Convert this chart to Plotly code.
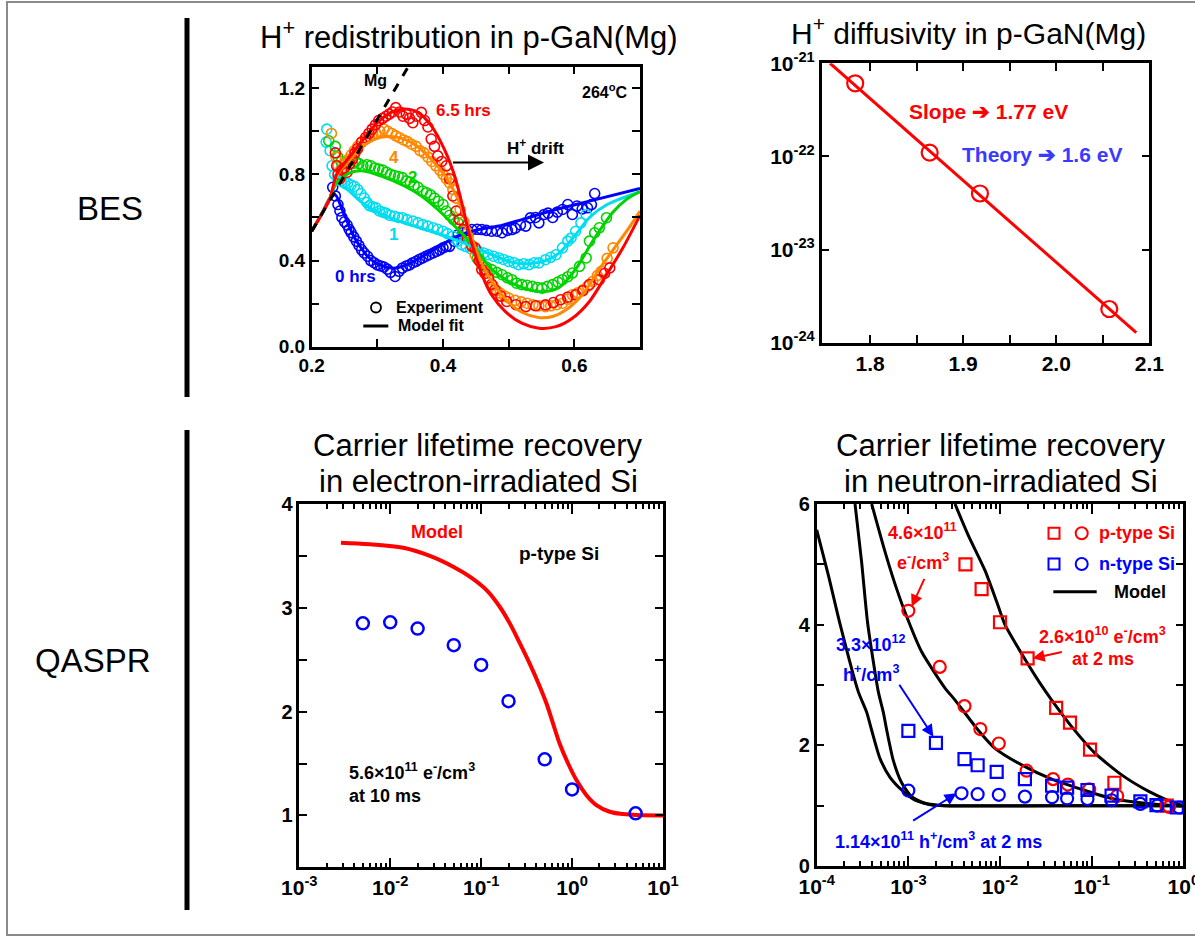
import plotly.graph_objects as go

FONT = "Arial, 'Liberation Sans', Helvetica, sans-serif"
W, H = 1195, 938

# ---------------- Panel 1: H+ redistribution in p-GaN(Mg) (BES) ----------------
bes_labels = ["0 hrs", "1", "2", "4", "6.5 hrs"]
bes_colors = ["#0000ff", "#00dcf0", "#00d400", "#ff8800", "#ff0000"]

bes_exp_0h = [(0.232, 0.74), (0.236, 0.70), (0.240, 0.66), (0.243, 0.63), (0.246, 0.60), (0.250, 0.58),
              (0.254, 0.565), (0.257, 0.545), (0.260, 0.53), (0.264, 0.51), (0.268, 0.49), (0.272, 0.47),
              (0.276, 0.45), (0.280, 0.435), (0.285, 0.42), (0.290, 0.40), (0.295, 0.39), (0.300, 0.38),
              (0.305, 0.375), (0.310, 0.37), (0.315, 0.36), (0.320, 0.345), (0.327, 0.326), (0.333, 0.35),
              (0.338, 0.365), (0.344, 0.375), (0.349, 0.38), (0.354, 0.39), (0.359, 0.396), (0.364, 0.405),
              (0.369, 0.412), (0.374, 0.42), (0.379, 0.427), (0.385, 0.435), (0.390, 0.443), (0.395, 0.45),
              (0.400, 0.459), (0.405, 0.465), (0.410, 0.466), (0.417, 0.49), (0.423, 0.52), (0.430, 0.53),
              (0.437, 0.54), (0.444, 0.544), (0.452, 0.545), (0.459, 0.544), (0.466, 0.54), (0.474, 0.536),
              (0.482, 0.536), (0.490, 0.529), (0.498, 0.54), (0.505, 0.544), (0.510, 0.55), (0.518, 0.565),
              (0.526, 0.56), (0.533, 0.598), (0.541, 0.60), (0.546, 0.575), (0.554, 0.614), (0.560, 0.62),
              (0.567, 0.60), (0.574, 0.625), (0.582, 0.637), (0.590, 0.66), (0.597, 0.614), (0.604, 0.653),
              (0.612, 0.64), (0.620, 0.645), (0.626, 0.66), (0.631, 0.711)]
bes_exp_1h = [(0.223, 1.01), (0.222, 0.95), (0.228, 0.91), (0.231, 0.84), (0.235, 0.80), (0.240, 0.78),
              (0.245, 0.77), (0.250, 0.765), (0.255, 0.76), (0.260, 0.75), (0.265, 0.745), (0.270, 0.73),
              (0.275, 0.71), (0.280, 0.69), (0.284, 0.67), (0.288, 0.655), (0.293, 0.65), (0.298, 0.645),
              (0.303, 0.63), (0.308, 0.625), (0.313, 0.62), (0.319, 0.61), (0.326, 0.606), (0.332, 0.60),
              (0.338, 0.599), (0.345, 0.59), (0.354, 0.583), (0.362, 0.575), (0.369, 0.567), (0.377, 0.56),
              (0.385, 0.552), (0.392, 0.545), (0.400, 0.536), (0.407, 0.525), (0.415, 0.513), (0.422, 0.49),
              (0.428, 0.474), (0.435, 0.465), (0.442, 0.455), (0.449, 0.45), (0.454, 0.443), (0.462, 0.435),
              (0.469, 0.427), (0.477, 0.42), (0.485, 0.412), (0.492, 0.405), (0.500, 0.396), (0.508, 0.39),
              (0.515, 0.381), (0.523, 0.385), (0.531, 0.381), (0.539, 0.39), (0.546, 0.389), (0.556, 0.404),
              (0.564, 0.415), (0.572, 0.427), (0.582, 0.459), (0.590, 0.49), (0.595, 0.505), (0.602, 0.536),
              (0.610, 0.575), (0.618, 0.614)]
bes_exp_2h = [(0.226, 0.956), (0.236, 0.93), (0.240, 0.88), (0.245, 0.86), (0.250, 0.85), (0.256, 0.86),
              (0.262, 0.85), (0.267, 0.86), (0.272, 0.85), (0.278, 0.84), (0.284, 0.845), (0.290, 0.84),
              (0.296, 0.83), (0.302, 0.825), (0.308, 0.82), (0.314, 0.81), (0.320, 0.80), (0.326, 0.795),
              (0.332, 0.79), (0.338, 0.785), (0.344, 0.77), (0.350, 0.765), (0.356, 0.75), (0.362, 0.74),
              (0.369, 0.723), (0.375, 0.715), (0.381, 0.705), (0.387, 0.69), (0.393, 0.675), (0.400, 0.66),
              (0.405, 0.63), (0.410, 0.61), (0.416, 0.59), (0.423, 0.575), (0.430, 0.54), (0.438, 0.513),
              (0.444, 0.47), (0.452, 0.41), (0.459, 0.381), (0.466, 0.37), (0.474, 0.358), (0.482, 0.345),
              (0.490, 0.334), (0.498, 0.32), (0.505, 0.311), (0.512, 0.295), (0.520, 0.288), (0.528, 0.285),
              (0.536, 0.28), (0.544, 0.275), (0.551, 0.272), (0.559, 0.28), (0.567, 0.288), (0.575, 0.30),
              (0.582, 0.311), (0.590, 0.325), (0.597, 0.342), (0.608, 0.373), (0.618, 0.412), (0.623, 0.49),
              (0.631, 0.529), (0.638, 0.552), (0.649, 0.599)]
bes_exp_4h = [(0.230, 0.99), (0.237, 0.88), (0.240, 0.84), (0.244, 0.82), (0.248, 0.83), (0.252, 0.85),
              (0.256, 0.87), (0.260, 0.89), (0.265, 0.91), (0.270, 0.93), (0.276, 0.95), (0.282, 0.963),
              (0.288, 0.975), (0.293, 0.987), (0.298, 0.99), (0.304, 1.0), (0.310, 1.01), (0.316, 1.0),
              (0.322, 0.99), (0.328, 0.979), (0.334, 0.97), (0.340, 0.96), (0.346, 0.952), (0.352, 0.94),
              (0.359, 0.93), (0.365, 0.91), (0.371, 0.90), (0.377, 0.88), (0.383, 0.86), (0.389, 0.84),
              (0.395, 0.82), (0.400, 0.80), (0.405, 0.78), (0.410, 0.76), (0.415, 0.73), (0.420, 0.69),
              (0.426, 0.637), (0.432, 0.58), (0.438, 0.53), (0.444, 0.47), (0.449, 0.427), (0.457, 0.39),
              (0.464, 0.35), (0.470, 0.31), (0.476, 0.285), (0.482, 0.26), (0.487, 0.249), (0.494, 0.235),
              (0.500, 0.226), (0.510, 0.215), (0.519, 0.208), (0.528, 0.202), (0.537, 0.195), (0.546, 0.19),
              (0.556, 0.186), (0.564, 0.19), (0.573, 0.195), (0.582, 0.202), (0.590, 0.22), (0.597, 0.241),
              (0.605, 0.25), (0.613, 0.264), (0.620, 0.28), (0.628, 0.303), (0.635, 0.33), (0.641, 0.35),
              (0.650, 0.41), (0.659, 0.459)]
bes_exp_65h = [(0.236, 0.90), (0.238, 0.84), (0.240, 0.80), (0.243, 0.78), (0.246, 0.82), (0.250, 0.83),
               (0.254, 0.81), (0.258, 0.85), (0.262, 0.87), (0.266, 0.90), (0.270, 0.92), (0.276, 0.95),
               (0.282, 0.971), (0.287, 0.99), (0.292, 1.01), (0.297, 1.03), (0.302, 1.05), (0.308, 1.06),
               (0.313, 1.07), (0.318, 1.08), (0.323, 1.09), (0.328, 1.11), (0.334, 1.09), (0.339, 1.07),
               (0.344, 1.08), (0.349, 1.06), (0.354, 1.04), (0.360, 1.07), (0.367, 1.088), (0.372, 1.05),
               (0.377, 1.02), (0.382, 0.964), (0.387, 0.93), (0.392, 0.886), (0.398, 0.86), (0.405, 0.84),
               (0.410, 0.78), (0.415, 0.70), (0.420, 0.63), (0.425, 0.59), (0.431, 0.544), (0.437, 0.50),
               (0.444, 0.466), (0.449, 0.459), (0.455, 0.40), (0.459, 0.358), (0.464, 0.34), (0.469, 0.319),
               (0.474, 0.29), (0.479, 0.264), (0.488, 0.235), (0.497, 0.21), (0.511, 0.195), (0.526, 0.186),
               (0.541, 0.19), (0.556, 0.194), (0.568, 0.205), (0.579, 0.218), (0.590, 0.23), (0.602, 0.241),
               (0.613, 0.26), (0.623, 0.288), (0.638, 0.311), (0.646, 0.34), (0.654, 0.366)]

bes_fit_0h = [(0.2, 0.536), (0.215, 0.615), (0.228, 0.69), (0.236, 0.705), (0.246, 0.64), (0.255, 0.575),
              (0.264, 0.513), (0.275, 0.46), (0.285, 0.42), (0.297, 0.39), (0.31, 0.373), (0.328, 0.365),
              (0.351, 0.389), (0.377, 0.435), (0.403, 0.482), (0.428, 0.52), (0.454, 0.544), (0.485, 0.56),
              (0.52, 0.59), (0.572, 0.637), (0.623, 0.676), (0.7, 0.735)]
bes_fit_1h = [(0.2, 0.536), (0.215, 0.615), (0.228, 0.69), (0.236, 0.755), (0.254, 0.73), (0.274, 0.675),
              (0.3, 0.625), (0.341, 0.575), (0.382, 0.536), (0.418, 0.497), (0.444, 0.466), (0.474, 0.427),
              (0.505, 0.392), (0.531, 0.385), (0.556, 0.40), (0.577, 0.435), (0.602, 0.52), (0.623, 0.60),
              (0.65, 0.66), (0.7, 0.72)]
bes_fit_2h = [(0.2, 0.536), (0.215, 0.615), (0.228, 0.69), (0.238, 0.762), (0.259, 0.808), (0.279, 0.816),
              (0.305, 0.793), (0.341, 0.746), (0.367, 0.70), (0.392, 0.637), (0.413, 0.575), (0.433, 0.513),
              (0.454, 0.44), (0.474, 0.36), (0.505, 0.295), (0.53, 0.265), (0.551, 0.255), (0.577, 0.275),
              (0.602, 0.36), (0.628, 0.49), (0.659, 0.625), (0.68, 0.685), (0.7, 0.72)]
bes_fit_4h = [(0.2, 0.536), (0.215, 0.615), (0.228, 0.69), (0.238, 0.793), (0.259, 0.87), (0.279, 0.933),
              (0.305, 0.972), (0.331, 0.972), (0.356, 0.94), (0.382, 0.87), (0.403, 0.793), (0.423, 0.684),
              (0.438, 0.56), (0.454, 0.42), (0.469, 0.33), (0.485, 0.26), (0.5, 0.205), (0.52, 0.16),
              (0.546, 0.135), (0.567, 0.14), (0.587, 0.17), (0.613, 0.245), (0.638, 0.36), (0.664, 0.47),
              (0.685, 0.56), (0.7, 0.63)]
bes_fit_65h = [(0.2, 0.536), (0.215, 0.615), (0.228, 0.69), (0.238, 0.80), (0.259, 0.886), (0.279, 0.964),
               (0.3, 1.04), (0.321, 1.088), (0.341, 1.104), (0.362, 1.088), (0.382, 1.026), (0.403, 0.91),
               (0.418, 0.79), (0.43, 0.65), (0.44, 0.52), (0.452, 0.40), (0.464, 0.30), (0.474, 0.24),
               (0.495, 0.163), (0.52, 0.109), (0.546, 0.086), (0.572, 0.093), (0.597, 0.132), (0.623, 0.21),
               (0.649, 0.334), (0.674, 0.459), (0.7, 0.61)]
mg_profile_x = [0.2, 0.347]
mg_profile_y = [0.536, 1.30]

# ---------------- Panel 2: H+ diffusivity ----------------
diff_x = [1.784, 1.864, 1.918, 2.057]
diff_D = [6.1e-22, 1.1e-22, 4.0e-23, 2.3e-24]
diff_fit_x = [1.757, 2.086]
diff_fit_D = [1.0e-21, 1.28e-24]

# ---------------- Panel 3: electron-irradiated Si ----------------
e_irr_t = [0.005, 0.01, 0.02, 0.05, 0.1, 0.2, 0.5, 1.0, 5.0]
e_irr_ratio = [2.85, 2.86, 2.80, 2.64, 2.45, 2.10, 1.54, 1.25, 1.02]
e_irr_model_t = [0.00287, 0.00598, 0.0139, 0.0273, 0.0492, 0.075, 0.1146, 0.160, 0.2065, 0.266, 0.343,
                 0.442, 0.522, 0.618, 0.731, 0.904, 1.117, 1.439, 1.849, 2.594, 3.631, 5.093, 10.0]
e_irr_model_ratio = [3.627, 3.612, 3.578, 3.50, 3.396, 3.30, 3.17, 3.01, 2.85, 2.66, 2.46, 2.24, 2.08,
                     1.885, 1.69, 1.50, 1.34, 1.195, 1.10, 1.035, 1.013, 1.003, 1.0]

# ---------------- Panel 4: neutron-irradiated Si ----------------
p_sq_t = [0.0042, 0.0063, 0.010, 0.020, 0.041, 0.058, 0.096, 0.177, 0.66]
p_sq_ratio = [5.0, 4.59, 4.04, 3.44, 2.62, 2.376, 1.93, 1.38, 1.0]
p_ci_t = [0.001, 0.0022, 0.0041, 0.0061, 0.0097, 0.0195, 0.038, 0.055, 0.094, 0.19, 0.70]
p_ci_ratio = [4.23, 3.30, 2.65, 2.27, 2.03, 1.58, 1.44, 1.35, 1.27, 1.16, 0.98]
n_sq_t = [0.001, 0.002, 0.0041, 0.0057, 0.0092, 0.0187, 0.037, 0.054, 0.09, 0.165, 0.34, 0.51, 0.85]
n_sq_ratio = [2.24, 2.04, 1.77, 1.67, 1.56, 1.44, 1.33, 1.30, 1.26, 1.165, 1.07, 1.01, 0.97]
n_ci_t = [0.001, 0.0038, 0.0057, 0.0097, 0.0187, 0.037, 0.054, 0.09, 0.165, 0.34, 0.52, 0.9]
n_ci_ratio = [1.25, 1.205, 1.19, 1.18, 1.15, 1.14, 1.12, 1.11, 1.09, 1.03, 1.0, 0.97]

model_p_lo = [(0.003228, 6.0), (0.004508, 5.48), (0.006855, 4.9), (0.009204, 4.38), (0.011324, 4.0),
              (0.019543, 3.38), (0.02729, 3.03), (0.036644, 2.75), (0.060534, 2.31), (0.108643, 1.87),
              (0.212324, 1.51), (0.414954, 1.24), (0.630957, 1.11), (1.0, 1.0)]
model_p_hi = [(0.000398, 6.0), (0.000556, 5.21), (0.000713, 4.68), (0.000918, 4.21), (0.001396, 3.55),
              (0.002512, 2.95), (0.003236, 2.75), (0.005794, 2.25), (0.00881, 1.95), (0.017219, 1.675),
              (0.036644, 1.44), (0.077804, 1.27), (0.165196, 1.12), (0.381944, 1.04), (1.0, 0.99)]
model_n_a = [(0.000262, 6.0), (0.000309, 5.04), (0.00036, 4.02), (0.00047, 2.89), (0.000533, 2.55),
             (0.000581, 2.25), (0.000685, 1.75), (0.000845, 1.38), (0.001086, 1.15), (0.001521, 1.04),
             (0.002512, 1.0), (0.1, 1.0), (1.0, 1.0)]
model_n_b = [(0.0001, 5.57), (0.000134, 4.82), (0.000179, 4.02), (0.000284, 2.89), (0.000351, 2.55),
             (0.000398, 2.25), (0.000491, 1.78), (0.000631, 1.47), (0.000845, 1.26), (0.001183, 1.09),
             (0.001799, 1.01), (0.002512, 1.0), (0.1, 1.0), (1.0, 1.0)]


def xs(pairs):
    return [p[0] for p in pairs]


def ys(pairs):
    return [p[1] for p in pairs]


def px(x):
    return x / W


def py(y):
    return 1 - y / H


fig = go.Figure()

# ---- Panel 1 traces
for pairs, c in zip([bes_exp_0h, bes_exp_1h, bes_exp_2h, bes_exp_4h, bes_exp_65h], bes_colors):
    fig.add_trace(go.Scatter(x=xs(pairs), y=ys(pairs), mode="markers", xaxis="x", yaxis="y",
                             marker=dict(symbol="circle-open", size=10, color=c, line=dict(width=1.6, color=c))))
for pairs, c in zip([bes_fit_0h, bes_fit_1h, bes_fit_2h, bes_fit_4h, bes_fit_65h], bes_colors):
    fig.add_trace(go.Scatter(x=xs(pairs), y=ys(pairs), mode="lines", xaxis="x", yaxis="y",
                             line=dict(color=c, width=3, shape="spline", smoothing=0.8)))
fig.add_trace(go.Scatter(x=mg_profile_x, y=mg_profile_y, mode="lines", xaxis="x", yaxis="y",
                         line=dict(color="black", width=3, dash="dash")))

# ---- Panel 2 traces
fig.add_trace(go.Scatter(x=diff_fit_x, y=diff_fit_D, mode="lines", xaxis="x2", yaxis="y2",
                         line=dict(color="#ff0000", width=3)))
fig.add_trace(go.Scatter(x=diff_x, y=diff_D, mode="markers", xaxis="x2", yaxis="y2",
                         marker=dict(symbol="circle-open", size=16, color="#ff0000",
                                     line=dict(width=2.2, color="#ff0000"))))

# ---- Panel 3 traces
fig.add_trace(go.Scatter(x=e_irr_model_t, y=e_irr_model_ratio, mode="lines", xaxis="x3", yaxis="y3",
                         line=dict(color="#ff0000", width=4, shape="spline", smoothing=1.0)))
fig.add_trace(go.Scatter(x=e_irr_t, y=e_irr_ratio, mode="markers", xaxis="x3", yaxis="y3",
                         marker=dict(symbol="circle-open", size=12, color="#0000ff",
                                     line=dict(width=2.5, color="#0000ff"))))

# ---- Panel 4 traces
for pairs in [model_p_lo, model_p_hi, model_n_a, model_n_b]:
    fig.add_trace(go.Scatter(x=xs(pairs), y=ys(pairs), mode="lines", xaxis="x4", yaxis="y4",
                             line=dict(color="black", width=3, shape="spline", smoothing=0.6)))
for tt, rr, sym, c in [(p_sq_t, p_sq_ratio, "square-open", "#ff0000"),
                       (p_ci_t, p_ci_ratio, "circle-open", "#ff0000"),
                       (n_sq_t, n_sq_ratio, "square-open", "#0000ff"),
                       (n_ci_t, n_ci_ratio, "circle-open", "#0000ff")]:
    fig.add_trace(go.Scatter(x=tt, y=rr, mode="markers", xaxis="x4", yaxis="y4",
                             marker=dict(symbol=sym, size=12, color=c, line=dict(width=2.2, color=c))))


def axis(domain, anchor, size, **kw):
    d = dict(domain=domain, anchor=anchor, showline=True, linecolor="black", linewidth=2.5,
             mirror="ticks", ticks="inside", tickcolor="black", tickwidth=2, ticklen=8,
             showgrid=False, zeroline=False, tickmode="array", automargin=False,
             ticklabeloverflow="allow",
             tickfont=dict(family=FONT, size=size, color="black", weight="bold"))
    d.update(kw)
    return d


def log_minor(lo, hi):
    return [m * 10.0 ** e for e in range(lo, hi) for m in range(2, 10)]


layout_axes = dict(
    xaxis=axis([px(311.7), px(640)], "y", 19, range=[0.2, 0.7],
               tickvals=[0.2, 0.3, 0.4, 0.5, 0.6, 0.7], ticktext=["0.2", "", "0.4", "", "0.6", ""]),
    yaxis=axis([py(346.7), py(66.7)], "x", 19, range=[0, 1.3],
               tickvals=[0, 0.2, 0.4, 0.6, 0.8, 1.0, 1.2], ticktext=["0.0", "", "0.4", "", "0.8", "", "1.2"]),
    xaxis2=axis([px(821.7), px(1149.3)], "y2", 21, range=[1.748, 2.1],
                tickvals=[1.8, 1.85, 1.9, 1.95, 2.0, 2.05, 2.1], ticktext=["1.8", "", "1.9", "", "2.0", "", "2.1"]),
    yaxis2=axis([py(342.7), py(63.3)], "x2", 21, type="log", range=[-24, -21],
                tickvals=[1e-24, 1e-23, 1e-22, 1e-21],
                ticktext=["10<sup>-24</sup>", "10<sup>-23</sup>", "10<sup>-22</sup>", "10<sup>-21</sup>"]),
    xaxis3=axis([px(299.3), px(663)], "y3", 21, type="log", range=[-3, 1], ticklen=10,
                tickvals=[1e-3, 1e-2, 1e-1, 1, 10],
                ticktext=["10<sup>-3</sup>", "10<sup>-2</sup>", "10<sup>-1</sup>", "10<sup>0</sup>", "10<sup>1</sup>"],
                minor=dict(tickmode="array", tickvals=log_minor(-3, 1), ticks="inside", ticklen=5,
                           tickcolor="black", tickwidth=2)),
    yaxis3=axis([py(867.3), py(504)], "x3", 20, range=[0.5, 4],
                tickvals=[0.5, 1, 1.5, 2, 2.5, 3, 3.5, 4], ticktext=["", "1", "", "2", "", "3", "", "4"]),
    xaxis4=axis([px(816.7), px(1183.3)], "y4", 21, type="log", range=[-4, 0], ticklen=10,
                tickvals=[1e-4, 1e-3, 1e-2, 1e-1, 1],
                ticktext=["10<sup>-4</sup>", "10<sup>-3</sup>", "10<sup>-2</sup>", "10<sup>-1</sup>", "10<sup>0</sup>"],
                minor=dict(tickmode="array", tickvals=log_minor(-4, 0), ticks="inside", ticklen=5,
                           tickcolor="black", tickwidth=2)),
    yaxis4=axis([py(866), py(504)], "x4", 20, range=[0, 6],
                tickvals=[0, 1, 2, 3, 4, 5, 6], ticktext=["0", "", "2", "", "4", "", "6"]),
)

annotations = []


def txt(text, x, y, ref, size, color="black", xanchor="center", bold=True, family=FONT, **kw):
    xr = "paper" if ref == "paper" else "x" + ref
    yr = "paper" if ref == "paper" else "y" + ref
    d = dict(text=text, x=x, y=y, xref=xr, yref=yr, showarrow=False, xanchor=xanchor, yanchor="middle",
             font=dict(family=family, size=size, color=color, weight="bold" if bold else "normal"))
    d.update(kw)
    annotations.append(d)


def arrow(hx, hy, tx, ty, ref, color, width=2, size=1.2):
    annotations.append(dict(text="", x=hx, y=hy, ax=tx, ay=ty, xref="x" + ref, yref="y" + ref,
                            axref="x" + ref, ayref="y" + ref, showarrow=True, arrowhead=2,
                            arrowsize=size, arrowwidth=width, arrowcolor=color))


# titles & row labels
txt("H<sup>+</sup> redistribution in p-GaN(Mg)", px(469), py(35), "paper", 31, bold=False)
txt("H<sup>+</sup> diffusivity in p-GaN(Mg)", px(968), py(31), "paper", 30, bold=False)
txt("Carrier lifetime recovery", px(478), py(445), "paper", 31, bold=False)
txt("in electron-irradiated Si", px(478), py(482), "paper", 31, bold=False)
txt("Carrier lifetime recovery", px(1001), py(445), "paper", 31, bold=False)
txt("in neutron-irradiated Si", px(1001), py(482), "paper", 31, bold=False)
txt("BES", px(110), py(208), "paper", 33, bold=False)
txt("QASPR", px(93), py(660), "paper", 33, bold=False)

# panel 1 texts
txt("Mg", 0.2974, 1.236, "", 16)
txt("264<sup>o</sup>C", 0.685, 1.189, "", 16, xanchor="right")
for lab, c, (x, y) in zip(bes_labels, bes_colors,
                          [(0.2667, 0.326), (0.3246, 0.521), (0.3538, 0.785), (0.3246, 0.878), (0.4308, 1.096)]):
    txt(lab, x, y, "", 17, color=c)
txt("H<sup>+</sup> drift", 0.541, 0.925, "", 17)
arrow(0.5538, 0.855, 0.4128, 0.855, "", "black", width=2, size=1.6)
txt("Experiment", 0.3256, 0.183, "", 16, xanchor="left")
txt("Model fit", 0.3282, 0.097, "", 16, xanchor="left")

# panel 2 texts
txt("Slope \u2794 1.77 eV", 1.9272, -21.52, "2", 21, color="#ff0000")
txt("Theory \u2794 1.6 eV", 1.9846, -21.974, "2", 21, color="#3a3aff")

# panel 3 texts
txt("Model", -1.491, 3.733, "3", 18, color="#ff0000")
txt("p-type Si", -0.143, 3.525, "3", 19)
txt("5.6\u00d710<sup>11</sup> e<sup>-</sup>/cm<sup>3</sup><br>at 10 ms", -2.473, 1.3145, "3", 18,
    xanchor="left", align="left")

# panel 4 texts
txt("4.6\u00d710<sup>11</sup>", -2.844, 5.54, "4", 18, color="#ff0000")
txt("e<sup>-</sup>/cm<sup>3</sup>", -2.836, 5.04, "4", 18, color="#ff0000")
arrow(-2.964, 4.298, -2.818, 4.785, "4", "#ff0000")
txt("2.6\u00d710<sup>10</sup> e<sup>-</sup>/cm<sup>3</sup>", -0.88, 3.818, "4", 18, color="#ff0000")
txt("at 2 ms", -0.873, 3.43, "4", 18, color="#ff0000")
arrow(-1.644, 3.442, -1.309, 3.552, "4", "#ff0000")
txt("3.3\u00d710<sup>12</sup>", -3.411, 3.69, "4", 18, color="#0000ff")
txt("h<sup>+</sup>/cm<sup>3</sup>", -3.411, 3.19, "4", 18, color="#0000ff")
arrow(-2.727, 2.144, -3.109, 3.028, "4", "#0000ff")
txt("1.14\u00d710<sup>11</sup> h<sup>+</sup>/cm<sup>3</sup> at 2 ms", -3.818, 0.431, "4", 18,
    color="#0000ff", xanchor="left")
arrow(-2.473, 1.204, -2.964, 0.735, "4", "#0000ff")
txt("p-type Si", -0.945, 5.514, "4", 18, color="#ff0000", xanchor="left")
txt("n-type Si", -0.945, 5.006, "4", 18, color="#0000ff", xanchor="left")
txt("Model", -0.782, 4.547, "4", 18, xanchor="left")

shapes = []


def key(kind, cx, cy, r, color, width=2):
    shapes.append(dict(type=kind, xref="paper", yref="paper", x0=px(cx - r), x1=px(cx + r),
                       y0=py(cy + r), y1=py(cy - r), line=dict(color=color, width=width),
                       fillcolor="rgba(0,0,0,0)", layer="above"))


def hline(x0, x1, y, color="black", width=3):
    shapes.append(dict(type="line", xref="paper", yref="paper", x0=px(x0), x1=px(x1), y0=py(y), y1=py(y),
                       line=dict(color=color, width=width), layer="above"))


# panel 1 legend keys
key("circle", 376, 307.5, 5, "black", 1.8)
hline(363.3, 388.3, 326)
# panel 4 legend keys
key("rect", 1054, 533.3, 5.5, "#ff0000")
key("circle", 1081.7, 533.3, 6, "#ff0000")
key("rect", 1054, 564, 5.5, "#0000ff")
key("circle", 1081.7, 564, 6, "#0000ff")
hline(1053.3, 1096.7, 591.7)
# white box behind the 3.3x10^12 label
shapes.append(dict(type="rect", xref="x4", yref="y4", x0=-3.86, x1=-3.04, y0=2.98, y1=4.04,
                   fillcolor="white", line=dict(width=0), layer="above"))
# separator bars and frame
shapes.append(dict(type="line", xref="paper", yref="paper", x0=px(187), x1=px(187), y0=py(18), y1=py(397),
                   line=dict(color="black", width=5)))
shapes.append(dict(type="line", xref="paper", yref="paper", x0=px(187), x1=px(187), y0=py(430), y1=py(910),
                   line=dict(color="black", width=5)))
shapes.append(dict(type="rect", xref="paper", yref="paper", x0=px(7), x1=px(1210), y0=py(935), y1=py(2),
                   line=dict(color="#8a8a8a", width=2), fillcolor="rgba(0,0,0,0)"))

fig.update_layout(width=W, height=H, margin=dict(l=0, r=0, t=0, b=0, autoexpand=False), showlegend=False,
                  paper_bgcolor="white", plot_bgcolor="white", annotations=annotations, shapes=shapes,
                  font=dict(family=FONT), **layout_axes)

fig.write_html("out.html")
